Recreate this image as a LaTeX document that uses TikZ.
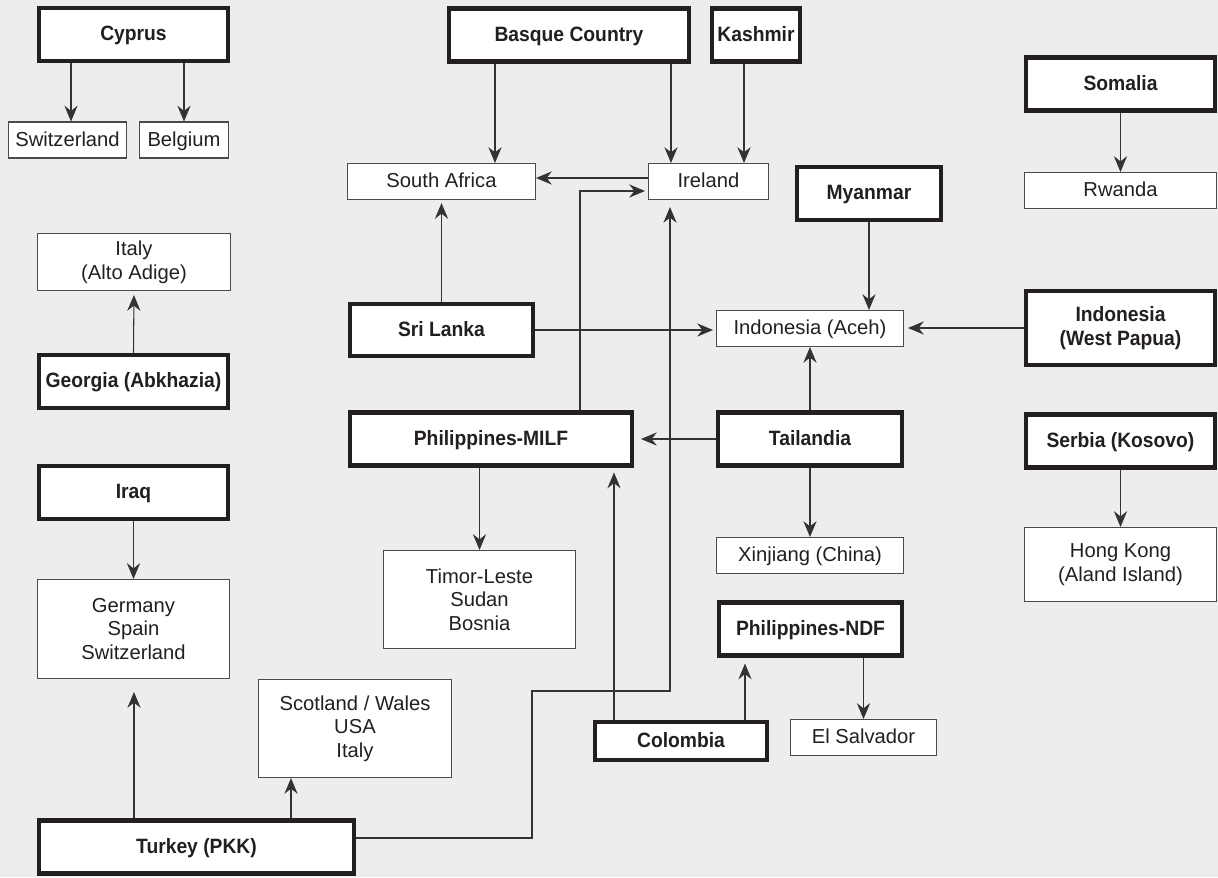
\documentclass[tikz,border=0pt]{standalone}
\usepackage{fontspec}
\setmainfont{Liberation Sans}[BoldFeatures={FakeStretch=0.93}]
\usetikzlibrary{arrows.meta}
\definecolor{paper}{HTML}{EDEDED}
\definecolor{ink}{HTML}{231F20}
\definecolor{frame}{HTML}{4A4A4A}
\definecolor{wire}{HTML}{333333}

\begin{document}
\begin{tikzpicture}[x=0.02cm, y=-0.02cm,
    >={Stealth[length=9pt,width=7.5pt,inset=3pt]},
    every node/.style={font=\fontsize{11.5}{13.5}\selectfont, text=ink, align=center, inner sep=0pt},
    conflict/.style={draw=ink, line width=2.3pt, fill=white, font=\fontsize{11.8}{13.5}\selectfont\bfseries,
        minimum height=1.06cm, text height=0.69em, text depth=0em},
    host/.style={draw=frame, line width=0.6pt, fill=white, minimum height=0.72cm, text height=0.69em, text depth=0em},
    multi/.style={text height=, text depth=},
    link/.style={->, draw=wire, line width=0.6pt}]
        % Background
        \fill[paper] (0,0) rectangle (1218,877);
        \useasboundingbox (0,0) rectangle (1218,877);
        % Conflicts
        \node[conflict, minimum width=3.78cm] (cyprus) at (133.5,34.5) {Cyprus};
        \node[conflict, minimum width=4.8cm] (basque) at (569,35) {Basque Country};
        \node[conflict, minimum width=1.76cm] (kashmir) at (756,35) {Kashmir};
        \node[conflict, minimum width=3.78cm] (somalia) at (1120.5,84) {Somalia};
        \node[conflict, minimum width=2.88cm] (myanmar) at (869,193.5) {Myanmar};
        \node[conflict, minimum width=3.66cm, minimum height=1.04cm] (srilanka) at (441.5,330) {Sri Lanka};
        \node[conflict, minimum width=3.78cm] (georgia) at (133.5,381.5) {Georgia (Abkhazia)};
        \node[conflict, multi, minimum width=3.78cm, minimum height=1.48cm] (indowp) at (1120.5,328) {Indonesia\\(West Papua)};
        \node[conflict, minimum width=5.64cm] (milf) at (491,439) {Philippines-MILF};
        \node[conflict, minimum width=3.68cm] (tailandia) at (810,439) {Tailandia};
        \node[conflict, minimum width=3.78cm] (serbia) at (1120.5,441) {Serbia (Kosovo)};
        \node[conflict, minimum width=3.78cm] (iraq) at (133.5,492.5) {Iraq};
        \node[conflict, minimum width=3.66cm] (ndf) at (810.5,629) {Philippines-NDF};
        \node[conflict, minimum width=3.44cm, minimum height=0.76cm] (colombia) at (681,741) {Colombia};
        \node[conflict, minimum width=6.3cm] (turkey) at (196.5,847) {Turkey (PKK)};
        % Hosts
        \node[host, minimum width=2.36cm] (switz) at (67.5,140) {Switzerland};
        \node[host, minimum width=1.78cm] (belgium) at (184,140) {Belgium};
        \node[host, minimum width=3.76cm] (southafrica) at (441.5,181.5) {South Africa};
        \node[host, minimum width=2.4cm] (ireland) at (708.5,181.5) {Ireland};
        \node[host, minimum width=3.84cm] (rwanda) at (1120.5,190.5) {Rwanda};
        \node[host, multi, minimum width=3.86cm, minimum height=1.14cm] (italy) at (134,262) {Italy\\(Alto Adige)};
        \node[host, minimum width=3.74cm] (aceh) at (810,328.5) {Indonesia (Aceh)};
        \node[host, minimum width=3.74cm] (xinjiang) at (810,555.5) {Xinjiang (China)};
        \node[host, multi, minimum width=3.84cm, minimum height=1.48cm] (hongkong) at (1120.5,564.5) {Hong Kong\\(Aland Island)};
        \node[host, multi, minimum width=3.84cm, minimum height=1.96cm] (timor) at (479.5,599.5) {Timor-Leste\\Sudan\\Bosnia};
        \node[host, multi, minimum width=3.84cm, minimum height=1.98cm] (germany) at (133.5,629) {Germany\\Spain\\Switzerland};
        \node[host, multi, minimum width=3.86cm, minimum height=1.96cm] (scotland) at (355,728.5) {Scotland / Wales\\USA\\Italy};
        \node[host, minimum width=2.92cm] (elsalvador) at (863.5,737.5) {El Salvador};
        % Links
        \draw[link] (71,0 |- cyprus.south) -- (71,0 |- switz.north);
        \draw[link] (cyprus.south -| belgium.north) -- (belgium.north);
        \draw[link] (495,0 |- basque.south) -- (495,0 |- southafrica.north);
        \draw[link] (671,0 |- basque.south) -- (671,0 |- ireland.north);
        \draw[link] (744,0 |- kashmir.south) -- (744,0 |- ireland.north);
        \draw[link] (0,178 -| ireland.west) -- (0,178 -| southafrica.east);
        \draw[link, shorten >=0.06cm] (580,0 |- milf.north) |- (0,191 -| ireland.west);
        \draw[link, shorten >=0.06cm] (srilanka.north) -- (srilanka.north |- southafrica.south);
        \draw[link, shorten >=0.06cm] (srilanka.east) -- (srilanka.east -| aceh.west);
        \draw[link] (myanmar.south) -- (myanmar.south |- aceh.north);
        \draw[link, shorten >=0.08cm] (indowp.west) -- (indowp.west -| aceh.east);
        \draw[link] (tailandia.north) -- (aceh.south);
        \draw[link, shorten >=0.14cm] (tailandia.west) -- (tailandia.west -| milf.east);
        \draw[link] (tailandia.south) -- (xinjiang.north);
        \draw[link] (milf.south -| timor.north) -- (timor.north);
        \draw[link, shorten >=0.1cm] (614,0 |- colombia.north) -- (614,0 |- milf.south);
        \draw[link, shorten >=0.12cm] (745,0 |- colombia.north) -- (745,0 |- ndf.south);
        \draw[link] (ndf.south -| elsalvador.north) -- (elsalvador.north);
        \draw[link] (somalia.south) -- (rwanda.north);
        \draw[link] (serbia.south) -- (hongkong.north);
        \draw[link, shorten >=0.08cm] (georgia.north) -- (italy.south);
        \draw[link] (iraq.south) -- (germany.north);
        \draw[link, shorten >=0.26cm] (134,0 |- turkey.north) -- (134,0 |- germany.south);
        \draw[link] (291,0 |- turkey.north) -- (291,0 |- scotland.south);
        \draw[link, shorten >=0.14cm] (0,838 -| turkey.east) -| (532,691) -| (670,0 |- ireland.south);
    \end{tikzpicture}
\end{document}
